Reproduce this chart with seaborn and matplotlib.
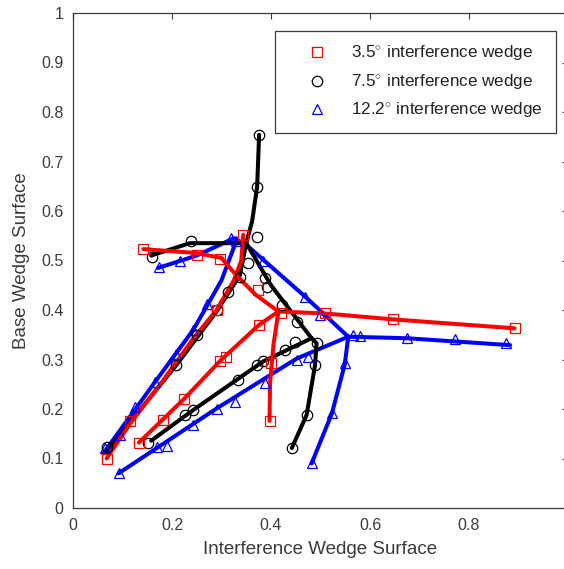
import matplotlib
matplotlib.use("Agg")
import matplotlib.pyplot as plt
from matplotlib.lines import Line2D
import numpy as np
import pandas as pd
import seaborn as sns

# ---------------- data ----------------
series_names = ["3.5", "7.5", "12.2"]
legend_labels = ["3.5$^{\\circ}$ interference wedge",
                 "7.5$^{\\circ}$ interference wedge",
                 "12.2$^{\\circ}$ interference wedge"]
series_colors = ["#ff0000", "#000000", "#0000ff"]
series_markers = ["s", "o", "^"]

x_ticks = [0, 0.2, 0.4, 0.6, 0.8, 1]
x_tick_labels = ["0", "0.2", "0.4", "0.6", "0.8", "1"]
y_ticks = [0, 0.1, 0.2, 0.3, 0.4, 0.5, 0.6, 0.7, 0.8, 0.9, 1]
y_tick_labels = ["0", "0.1", "0.2", "0.3", "0.4", "0.5", "0.6", "0.7", "0.8", "0.9", "1"]

# 3.5 deg (red) - line branches
red_line_x = [
    [0.415, 0.509, 0.647, 0.892],
    [0.415, 0.405, 0.398, 0.397],
    [0.415, 0.376, 0.300, 0.224, 0.133],
    [0.142, 0.250, 0.300, 0.330, 0.370, 0.415],
    [0.344, 0.340, 0.325, 0.290, 0.245, 0.180, 0.115, 0.068],
]
red_line_y = [
    [0.397, 0.393, 0.381, 0.363],
    [0.397, 0.330, 0.252, 0.176],
    [0.397, 0.370, 0.300, 0.220, 0.132],
    [0.523, 0.515, 0.505, 0.470, 0.430, 0.397],
    [0.552, 0.500, 0.460, 0.400, 0.345, 0.255, 0.170, 0.100],
]
red_mark_x = [0.420, 0.509, 0.647, 0.892, 0.400, 0.397, 0.376, 0.297, 0.309,
              0.224, 0.182, 0.133, 0.142, 0.250, 0.297, 0.374, 0.344, 0.290,
              0.115, 0.068]
red_mark_y = [0.393, 0.393, 0.381, 0.363, 0.292, 0.176, 0.370, 0.296, 0.306,
              0.220, 0.178, 0.132, 0.523, 0.511, 0.504, 0.440, 0.552, 0.400,
              0.176, 0.098]

# 7.5 deg (black)
black_line_x = [
    [0.376, 0.372, 0.362, 0.350],
    [0.158, 0.236, 0.350],
    [0.350, 0.400, 0.482],
    [0.350, 0.337, 0.290, 0.209, 0.068],
    [0.482, 0.492, 0.489, 0.472, 0.442],
    [0.482, 0.384, 0.243, 0.158],
]
black_line_y = [
    [0.754, 0.649, 0.580, 0.535],
    [0.510, 0.535, 0.535],
    [0.535, 0.450, 0.343],
    [0.535, 0.470, 0.397, 0.289, 0.115],
    [0.343, 0.333, 0.289, 0.188, 0.121],
    [0.343, 0.296, 0.198, 0.136],
]
black_mark_x = [0.376, 0.372, 0.371, 0.159, 0.238, 0.354, 0.388, 0.391, 0.422,
                0.452, 0.337, 0.314, 0.290, 0.250, 0.209, 0.068, 0.492, 0.489,
                0.472, 0.442, 0.448, 0.428, 0.384, 0.371, 0.334, 0.243, 0.226,
                0.152]
black_mark_y = [0.754, 0.649, 0.548, 0.508, 0.540, 0.494, 0.464, 0.447, 0.410,
                0.375, 0.467, 0.437, 0.400, 0.350, 0.289, 0.124, 0.333, 0.289,
                0.188, 0.121, 0.336, 0.319, 0.296, 0.289, 0.259, 0.198, 0.188,
                0.131]

# 12.2 deg (blue)
blue_line_x = [
    [0.172, 0.250, 0.325, 0.352],
    [0.330, 0.300, 0.243, 0.166, 0.061],
    [0.352, 0.469, 0.556],
    [0.556, 0.674, 0.883],
    [0.556, 0.549, 0.523, 0.482],
    [0.556, 0.452, 0.290, 0.092],
]
blue_line_y = [
    [0.485, 0.510, 0.545, 0.530],
    [0.540, 0.460, 0.360, 0.255, 0.110],
    [0.530, 0.427, 0.346],
    [0.346, 0.343, 0.329],
    [0.346, 0.290, 0.191, 0.090],
    [0.346, 0.302, 0.201, 0.070],
]
blue_mark_x = [0.174, 0.216, 0.320, 0.330, 0.270, 0.243, 0.209, 0.166, 0.125,
               0.095, 0.065, 0.384, 0.469, 0.499, 0.566, 0.580, 0.674, 0.772,
               0.875, 0.549, 0.523, 0.482, 0.452, 0.475, 0.388, 0.327, 0.290,
               0.243, 0.189, 0.169, 0.092]
blue_mark_y = [0.487, 0.498, 0.545, 0.540, 0.413, 0.360, 0.312, 0.255, 0.205,
               0.147, 0.121, 0.498, 0.427, 0.390, 0.349, 0.348, 0.343, 0.341,
               0.333, 0.292, 0.191, 0.090, 0.300, 0.306, 0.252, 0.215, 0.201,
               0.168, 0.125, 0.124, 0.070]

# ---------------- build tables ----------------
line_sets = [(red_line_x, red_line_y), (black_line_x, black_line_y), (blue_line_x, blue_line_y)]
mark_sets = [(red_mark_x, red_mark_y), (black_mark_x, black_mark_y), (blue_mark_x, blue_mark_y)]

line_rows = []
for name, (lx, ly) in zip(series_names, line_sets):
    for b, (bx, by) in enumerate(zip(lx, ly)):
        for i, (xx, yy) in enumerate(zip(bx, by)):
            line_rows.append(dict(series=name, branch=f"{name}-{b}", order=i, x=xx, y=yy))
lines_df = pd.DataFrame(line_rows)

mark_rows = []
for name, (mx, my) in zip(series_names, mark_sets):
    for i, (xx, yy) in enumerate(zip(mx, my)):
        mark_rows.append(dict(series=name, idx=i, x=xx, y=yy))
marks_df = pd.DataFrame(mark_rows)

# ---------------- plot ----------------
sns.set_theme(style="white")
plt.rcParams["font.family"] = ["Liberation Sans", "DejaVu Sans"]
plt.rcParams["mathtext.fontset"] = "custom"
plt.rcParams["mathtext.rm"] = "Liberation Sans"

fig = plt.figure(figsize=(5.64, 5.69), dpi=100)
ax = fig.add_axes([73 / 564, 61 / 569, 495 / 564, 495 / 569])

draw_order = [2, 1, 0]  # blue, black, red on top
for k in draw_order:
    name = series_names[k]
    sub = lines_df[lines_df.series == name]
    sns.lineplot(data=sub, x="x", y="y", units="branch", estimator=None, sort=False,
                 color=series_colors[k], linewidth=2.9, ax=ax, legend=False)
for k in draw_order:
    name = series_names[k]
    sub = marks_df[marks_df.series == name]
    sns.lineplot(data=sub, x="x", y="y", units="idx", estimator=None, sort=False,
                 color=series_colors[k], linestyle="", marker=series_markers[k],
                 markersize=7.5 if k else 7, markerfacecolor="none",
                 markeredgecolor=series_colors[k], markeredgewidth=0.9,
                 ax=ax, legend=False)

ax.set_xlim(0, 1)
ax.set_ylim(0, 1)
ax.set_xticks(x_ticks)
ax.set_xticklabels(x_tick_labels)
ax.set_yticks(y_ticks)
ax.set_yticklabels(y_tick_labels)
ax.tick_params(direction="in", top=True, right=True, length=4, width=0.8,
               colors="#3a3a3a", labelsize=11.5, pad=7)
for sp in ax.spines.values():
    sp.set_color("#3a3a3a")
    sp.set_linewidth(0.9)
ax.set_xlabel("Interference Wedge Surface", fontsize=13.5, color="#3a3a3a", labelpad=6)
ax.set_ylabel("Base Wedge Surface", fontsize=13.5, color="#3a3a3a", labelpad=8)

handles = [Line2D([], [], linestyle="none", marker=m, markersize=7.5,
                  markerfacecolor="none", markeredgecolor=c, markeredgewidth=0.9)
           for m, c in zip(series_markers, series_colors)]
leg = ax.legend(handles, legend_labels, loc="upper left",
                bbox_to_anchor=(202 / 495, 477 / 495), borderaxespad=0,
                fontsize=12.3, frameon=True,
                fancybox=False, framealpha=1, edgecolor="#3a3a3a",
                handletextpad=0.3, borderpad=0.75, labelspacing=0.5,
                handlelength=3.4)
leg.get_frame().set_linewidth(0.9)
for t in leg.get_texts():
    t.set_color("#222222")

fig.savefig("out.png", dpi=100, facecolor="white")
